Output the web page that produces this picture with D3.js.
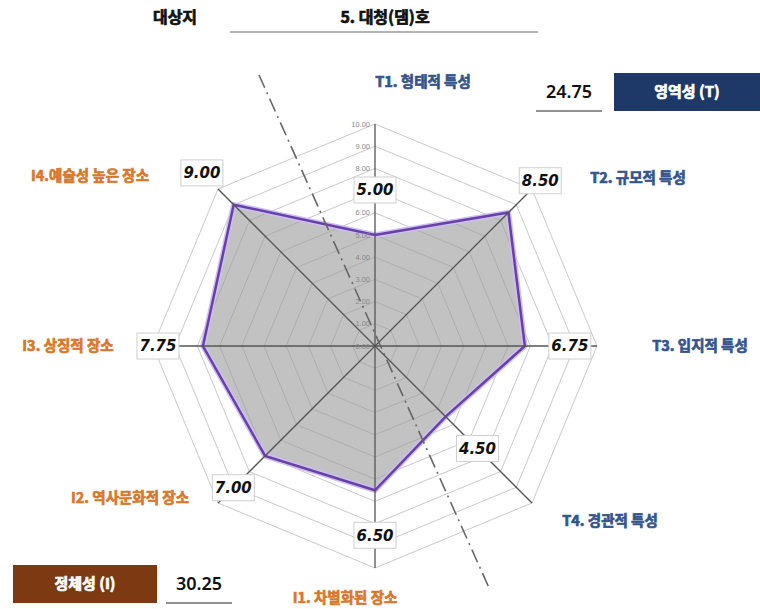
<!DOCTYPE html>
<html>
<head>
<meta charset="utf-8">
<script src="https://cdn.jsdelivr.net/npm/d3@7"></script>
<style>
  body { margin: 0; background: #fff; }
  svg { display: block; }
  .kr { font-family: "Noto Sans CJK KR", "Noto Sans", sans-serif; font-weight: 700; stroke-width: 0.7px; paint-order: stroke; }
</style>
</head>
<body>
<div id="vis"></div>
<script>
// chart data
const AXES = ["T1. 형태적 특성", "T2. 규모적 특성", "T3. 입지적 특성", "T4. 경관적 특성",
              "I1. 차별화된 장소", "I2. 역사문화적 장소", "I3. 상징적 장소", "I4.예술성 높은 장소"];
const GROUPS = ["T", "T", "T", "T", "I", "I", "I", "I"];
const VALUES = [5.00, 8.50, 6.75, 4.50, 6.50, 7.00, 7.75, 9.00];
const TICKS = [0, 1, 2, 3, 4, 5, 6, 7, 8, 9, 10];
const SITE = "5. 대청(댐)호";
const SCORE_T = "24.75";
const SCORE_I = "30.25";

// frame
const FRAME_WIDTH = 760;
const FRAME_HEIGHT = 609;
const CX = 375, CY = 346, RADIUS = 222;

// label anchors for the axis names
const LABEL_POS = [[423, 82], [638, 178], [700, 346], [610, 521],
                   [345, 598], [130, 498], [68, 346], [90, 176]];

const COLORS = { T: "#33558c", I: "#d9772a" };

const FRAME = d3.select("#vis")
    .append("svg")
    .attr("width", FRAME_WIDTH)
    .attr("height", FRAME_HEIGHT);

const R_SCALE = d3.scaleLinear().domain([0, 10]).range([0, RADIUS]);
const A_SCALE = d3.scaleLinear().domain([0, AXES.length]).range([0, 2 * Math.PI]);

function pt(i, r) {
    const a = A_SCALE(i);
    return [CX + r * Math.sin(a), CY - r * Math.cos(a)];
}

// grid rings
const ring = d3.line();
FRAME.append("g").selectAll("path")
    .data(TICKS.slice(1))
    .enter()
    .append("path")
    .attr("d", (t) => ring(AXES.map((_, i) => pt(i, R_SCALE(t)))) + "Z")
    .attr("fill", "none")
    .attr("stroke", "#c9c9c9")
    .attr("stroke-width", 1);

// data polygon
FRAME.append("path")
    .attr("d", ring(VALUES.map((v, i) => pt(i, R_SCALE(v)))) + "Z")
    .attr("fill", "#9a9a9a")
    .attr("fill-opacity", 0.6)
    .attr("stroke", "#cdbff0")
    .attr("stroke-width", 5.5)
    .attr("stroke-linejoin", "miter");
FRAME.append("path")
    .attr("d", ring(VALUES.map((v, i) => pt(i, R_SCALE(v)))) + "Z")
    .attr("fill", "none")
    .attr("stroke", "#6840a8")
    .attr("stroke-width", 2.5)
    .attr("stroke-linejoin", "miter");

// axis spokes
FRAME.append("g").selectAll("line")
    .data(AXES)
    .enter()
    .append("line")
    .attr("x1", CX).attr("y1", CY)
    .attr("x2", (d, i) => pt(i, RADIUS)[0])
    .attr("y2", (d, i) => pt(i, RADIUS)[1])
    .attr("stroke", "#555")
    .attr("stroke-width", 1.3);

// scale labels on the top spoke
FRAME.append("g").selectAll("text")
    .data(TICKS)
    .enter()
    .append("text")
    .attr("x", CX - 5)
    .attr("y", (t) => CY - R_SCALE(t))
    .attr("dy", "0.35em")
    .attr("text-anchor", "end")
    .attr("font-family", "Liberation Sans, sans-serif")
    .attr("font-size", 7.5)
    .attr("fill", "#888")
    .text((t) => t.toFixed(2));

// dash-dot divider between T and I groups
const divTop = [259, 75], divBot = [490, 590];
FRAME.append("line")
    .attr("x1", divTop[0]).attr("y1", divTop[1])
    .attr("x2", divBot[0]).attr("y2", divBot[1])
    .attr("stroke", "#666")
    .attr("stroke-width", 1.6)
    .attr("stroke-dasharray", "14,5,2,5");

// value labels (boxed)
const vals = FRAME.append("g").selectAll("g")
    .data(VALUES)
    .enter()
    .append("g")
    .attr("transform", (v, i) => {
        const p = pt(i, R_SCALE(v) + 45);
        return "translate(" + p[0] + "," + p[1] + ")";
    });
vals.append("rect")
    .attr("x", -21).attr("y", -13)
    .attr("width", 42).attr("height", 26)
    .attr("fill", "#fff")
    .attr("stroke", "#cfcfcf");
vals.append("text")
    .attr("text-anchor", "middle")
    .attr("dy", "0.36em")
    .attr("font-family", "DejaVu Sans, sans-serif")
    .attr("font-weight", "bold")
    .attr("font-style", "italic")
    .attr("font-size", 15)
    .attr("fill", "#111")
    .text((v) => v.toFixed(2));

// axis names
FRAME.append("g").selectAll("text")
    .data(AXES)
    .enter()
    .append("text")
    .attr("class", "kr")
    .attr("x", (d, i) => LABEL_POS[i][0])
    .attr("y", (d, i) => LABEL_POS[i][1])
    .attr("dy", "0.35em")
    .attr("text-anchor", "middle")
    .attr("font-size", 14.5)
    .attr("fill", (d, i) => COLORS[GROUPS[i]])
    .attr("stroke", (d, i) => COLORS[GROUPS[i]])
    .text((d) => d);

// header
FRAME.append("text").attr("class", "kr")
    .attr("x", 175).attr("y", 17).attr("dy", "0.35em")
    .attr("text-anchor", "middle").attr("font-size", 16)
    .attr("fill", "#111").attr("stroke", "#111")
    .text("대상지");
FRAME.append("text").attr("class", "kr")
    .attr("x", 385).attr("y", 17).attr("dy", "0.35em")
    .attr("text-anchor", "middle").attr("font-size", 16)
    .attr("fill", "#111").attr("stroke", "#111")
    .text(SITE);
FRAME.append("line")
    .attr("x1", 230).attr("x2", 538).attr("y1", 32).attr("y2", 32)
    .attr("stroke", "#666").attr("stroke-width", 1);

// score boxes
function scoreBox(bx, by, bw, bh, fill, label, nx, score) {
    FRAME.append("rect")
        .attr("x", bx).attr("y", by).attr("width", bw).attr("height", bh)
        .attr("fill", fill);
    FRAME.append("text").attr("class", "kr")
        .attr("x", bx + bw / 2).attr("y", by + bh / 2).attr("dy", "0.35em")
        .attr("text-anchor", "middle").attr("font-size", 15)
        .attr("fill", "#fff").attr("stroke", "#fff")
        .text(label);
    FRAME.append("text")
        .attr("x", nx).attr("y", by + bh / 2).attr("dy", "0.35em")
        .attr("text-anchor", "middle")
        .attr("font-family", "Noto Sans, sans-serif")
        .attr("font-weight", 600)
        .attr("font-size", 18).attr("fill", "#111")
        .text(score);
    FRAME.append("line")
        .attr("x1", nx - 33).attr("x2", nx + 33)
        .attr("y1", by + bh).attr("y2", by + bh)
        .attr("stroke", "#222").attr("stroke-width", 1.2);
}
scoreBox(614, 73, 146, 38, "#1e3867", "영역성 (T)", 569, SCORE_T);
scoreBox(13, 565, 144, 38, "#7d3a12", "정체성 (I)", 199, SCORE_I);
</script>
</body>
</html>
